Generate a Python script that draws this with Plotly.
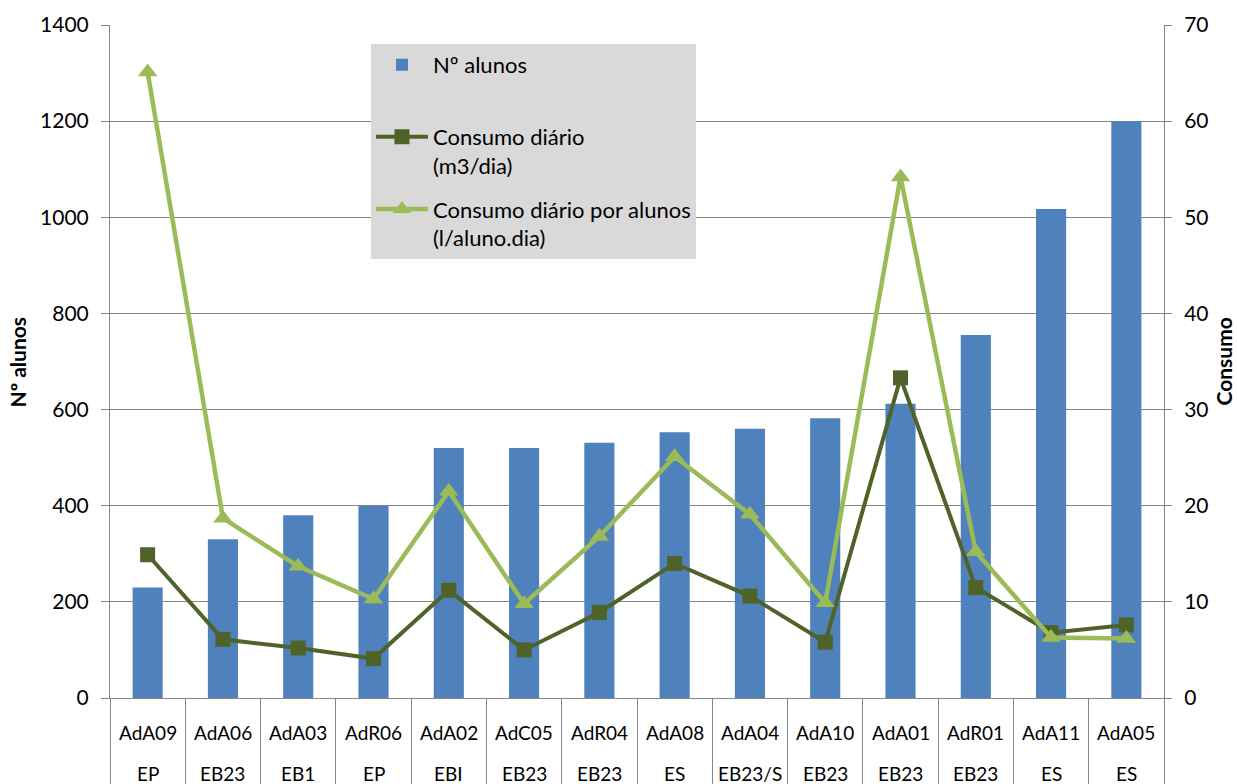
import plotly.graph_objects as go

escolas = ["AdA09", "AdA06", "AdA03", "AdR06", "AdA02", "AdC05", "AdR04",
           "AdA08", "AdA04", "AdA10", "AdA01", "AdR01", "AdA11", "AdA05"]
tipos = ["EP", "EB23", "EB1", "EP", "EBI", "EB23", "EB23",
         "ES", "EB23/S", "EB23", "EB23", "EB23", "ES", "ES"]
n_alunos = [230, 330, 380, 400, 520, 520, 531, 553, 560, 582, 612, 755, 1017, 1200]
consumo_diario = [14.9, 6.1, 5.2, 4.1, 11.2, 5.0, 8.9, 14.0, 10.6, 5.8, 33.3, 11.5, 6.8, 7.6]
consumo_por_aluno = [65.1, 18.7, 13.7, 10.3, 21.5, 9.8, 16.8, 25.1, 19.1, 9.9, 54.2, 15.2, 6.3, 6.2]

FONT = "Lato"
GRID = "#868686"

fig = go.Figure()
fig.add_trace(go.Bar(
    x=escolas, y=n_alunos, name="Nº alunos<br> ",
    marker=dict(color="#4F81BD", line=dict(width=0)),
    legendgroup="a",
))
fig.add_trace(go.Scatter(
    x=escolas, y=consumo_diario, name="Consumo diário<br>(m3/dia)",
    yaxis="y2", mode="lines+markers",
    line=dict(color="#4F6228", width=4),
    marker=dict(symbol="square", size=15, color="#4F6228"),
    legendgroup="b",
))
fig.add_trace(go.Scatter(
    x=escolas, y=consumo_por_aluno, name="Consumo diário por alunos<br>(l/aluno.dia)",
    yaxis="y2", mode="lines+markers",
    line=dict(color="#9BBB59", width=4.5),
    marker=dict(symbol="triangle-up", size=17, color="#9BBB59"),
    legendgroup="c",
))

annotations = []
for e, t in zip(escolas, tipos):
    annotations.append(dict(x=e, xref="x", y=0, yref="paper", yshift=-34,
                            text=e, showarrow=False, yanchor="middle",
                            font=dict(family=FONT, size=19, color="black")))
    annotations.append(dict(x=e, xref="x", y=0, yref="paper", yshift=-75,
                            text=t, showarrow=False, yanchor="middle",
                            font=dict(family=FONT, size=19, color="black")))
annotations.append(dict(x=-0.0873, xref="paper", y=0.5, yref="paper",
                        xanchor="center", yanchor="middle",
                        text="<b>Nº alunos</b>", textangle=-90, showarrow=False,
                        font=dict(family=FONT, size=21, color="black")))
annotations.append(dict(x=1.0569, xref="paper", y=0.5, yref="paper",
                        xanchor="center", yanchor="middle",
                        text="<b>Consumo</b>", textangle=-90, showarrow=False,
                        font=dict(family=FONT, size=21, color="black")))

fig.update_layout(
    width=1237, height=784,
    margin=dict(l=110, r=73, t=25, b=86, autoexpand=False),
    paper_bgcolor="white", plot_bgcolor="white",
    font=dict(family=FONT, size=21, color="black"),
    bargap=0.6,
    showlegend=True,
    legend=dict(x=0.2476, y=0.972, xanchor="left", yanchor="top",
                bgcolor="#D9D9D9", borderwidth=0, valign="top",
                itemwidth=52,
                font=dict(family=FONT, size=22, color="black"),
                tracegroupgap=12, traceorder="grouped"),
    xaxis=dict(type="category", range=[-0.5, 13.5], autorange=False,
               showticklabels=False, ticks="outside",
               tickson="boundaries", ticklen=90, tickcolor=GRID, tickwidth=1,
               showline=True, linecolor=GRID, linewidth=1, showgrid=False,
               zeroline=False, automargin=False),
    yaxis=dict(range=[0, 1400], dtick=200, showgrid=True, gridcolor=GRID,
               gridwidth=1, ticks="outside", ticklen=8, tickcolor=GRID,
               showline=True, linecolor=GRID, linewidth=1, zeroline=False,
               automargin=False, ticklabelstandoff=8,
               tickfont=dict(family=FONT, size=21, color="black")),
    yaxis2=dict(range=[0, 70], dtick=10, overlaying="y", side="right",
                showgrid=False, ticks="outside", ticklen=7, tickcolor=GRID,
                showline=True, linecolor=GRID, linewidth=1, zeroline=False,
                automargin=False, ticklabelstandoff=8,
                tickfont=dict(family=FONT, size=21, color="black")),
    annotations=annotations,
)

fig.write_html("out.html")
